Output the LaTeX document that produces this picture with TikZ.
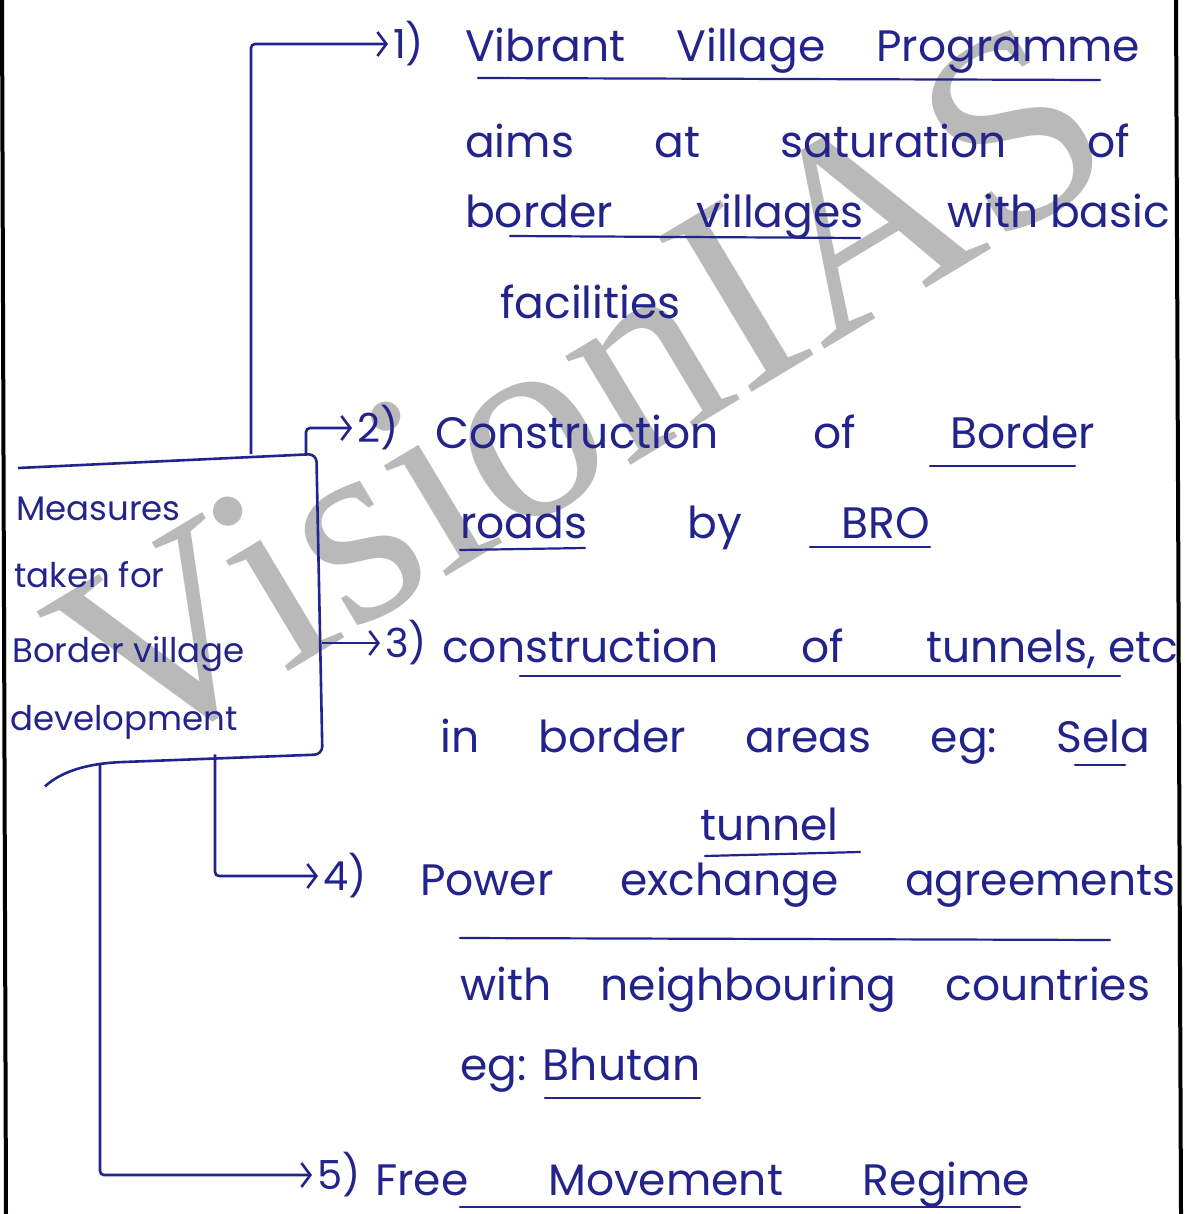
\documentclass[tikz,border=0pt]{standalone}
\usepackage{fontspec}
\setmainfont{Poppins}
\newfontfamily\wmfont{Liberation Serif}
\usetikzlibrary{arrows.meta,calc}
\definecolor{ink}{RGB}{35,35,140}
\tikzset{
  handtext/.style={anchor=base west, inner sep=0pt, text=ink,
    font=\fontsize{44}{44}\selectfont},
  boxtext/.style={anchor=base west, inner sep=0pt, text=ink,
    font=\fontsize{34}{34}\selectfont},
  num/.style={anchor=west, inner sep=0pt, outer sep=5pt, text=ink,
    font=\fontsize{40}{40}\selectfont},
  conn/.style={draw=ink, line width=2.6pt, rounded corners=4pt,
    -{Straight Barb[length=9pt,width=24pt,line width=2.6pt]}},
  uline/.style={draw=ink, line width=2.2pt, line cap=round},
  frame/.style={draw=black, line width=4pt}
}
\newcommand{\spread}[2]{\hbox to #1pt{#2}}
\begin{document}
\begin{tikzpicture}[x=1pt,y=-1pt]
\useasboundingbox (0,0) rectangle (1184,1214);
\fill[white] (0,0) rectangle (1184,1214);

% watermark
\node[rotate=31, text=gray!55, font=\wmfont\fontsize{276}{276}\selectfont, inner sep=0pt]
  (wm) at (580,392) {VisionIAS};

% page frame
\draw[frame] (2,0) -- (6,1214);
\draw[frame] (1176,0) -- (1181,1214);

% central box, open on its left side
\node[minimum width=304pt, minimum height=300pt, inner sep=0pt, anchor=north west]
  (box) at (18,454) {};
\draw[draw=ink, line width=2.6pt, rounded corners=8pt]
  ($(box.north west)+(0,14)$) -- ($(box.north east)+(-6,0)$) -- (box.south east)
  -- ($(box.south west)+(95,8)$)
  .. controls ($(box.south west)+(60,12)$) and ($(box.south west)+(40,20)$) .. ($(box.south west)+(27,32)$);
\node[boxtext] (bt1) at (16,520) {Measures};
\node[boxtext] (bt2) at (14,587) {taken for};
\node[boxtext] (bt3) at (12,662) {Border village};
\node[boxtext] (bt4) at (10,730) {development};

% item 1
\node[num] (n1) at (388,44) {1)};
\node[handtext] (t1a) at (465,62) {\spread{675}{Vibrant\hfill Village\hfill Programme}};
\node[handtext] (t1b) at (465,158) {\spread{665}{aims\hfill at\hfill saturation\hfill of}};
\node[handtext] (t1c) at (465,228) {\spread{705}{border\hfill villages\hfill with basic}};
\node[handtext] (t1d) at (500,318) {facilities};

% item 2
\node[num] (n2) at (352,428) {2)};
\node[handtext] (t2a) at (435,448) {\spread{660}{Construction\hfill of\hfill Border}};
\node[handtext] (t2b) at (460,538) {\spread{470}{roads\hfill by\hfill BRO}};

% item 3
\node[num] (n3) at (380,643) {3)};
\node[handtext] (t3a) at (442,662) {\spread{736}{construction\hfill of\hfill tunnels, etc}};
\node[handtext] (t3b) at (440,752) {\spread{710}{in\hfill border\hfill areas\hfill eg:\hfill Sela}};
\node[handtext] (t3c) at (700,840) {tunnel};

% item 4
\node[num] (n4) at (318,876) {4)};
\node[handtext] (t4a) at (420,895) {\spread{755}{Power\hfill exchange\hfill agreements}};
\node[handtext] (t4b) at (460,1000) {\spread{690}{with\hfill neighbouring\hfill countries}};
\node[handtext] (t4c) at (460,1080) {\spread{240}{eg:\hfill Bhutan}};

% item 5
\node[num] (n5) at (312,1175) {5)};
\node[handtext] (t5) at (375,1195) {\spread{655}{Free\hfill Movement\hfill Regime}};

% underlines
\draw[uline] (478,78) -- (1100,80);
\draw[uline] (510,236) -- (860,238);
\draw[uline] (930,466) -- (1075,466);
\draw[uline] (460,550) -- (585,548);
\draw[uline] (810,547) -- (930,547);
\draw[uline] (520,676) -- (1120,676);
\draw[uline] (1075,765) -- (1125,765);
\draw[uline] (705,856) -- (860,852);
\draw[uline] (460,938) -- (1110,940);
\draw[uline] (545,1098) -- (700,1098);
\draw[uline] (460,1207) -- (1020,1207);

% connectors
\draw[conn] ($(box.north west)+(233,0)$) |- (n1.west);
\draw[conn] ($(box.north west)+(288,0)$) |- (n2.west);
\draw[conn] (box.east |- n3.west) -- (n3.west);
\draw[conn] ($(box.south west)+(197,0)$) |- (n4.west);
\draw[conn] ($(box.south west)+(82,10)$) |- (n5.west);
\end{tikzpicture}
\end{document}
